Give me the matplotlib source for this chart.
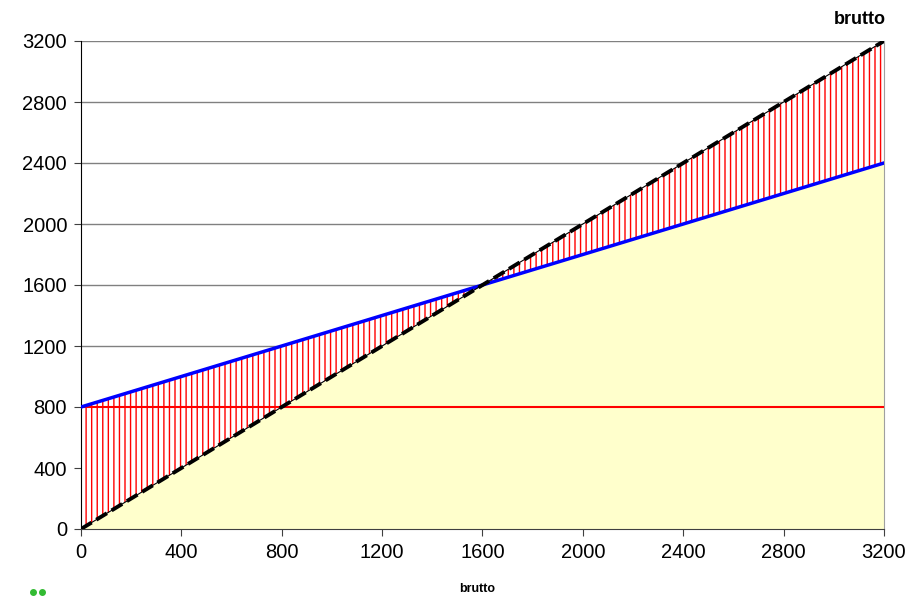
import numpy as np
import matplotlib.pyplot as plt

brutto = np.array([0, 1600, 3200])
brutto_line = np.array([0, 1600, 3200])   # y = brutto (dashed)
netto = np.array([800, 1600, 2400])       # blue line
grundfreibetrag = np.array([800, 800, 800])  # red horizontal
ticks = [0, 400, 800, 1200, 1600, 2000, 2400, 2800, 3200]

plt.rcParams['font.family'] = ['Liberation Sans', 'DejaVu Sans']
plt.rcParams['hatch.color'] = 'red'
plt.rcParams['hatch.linewidth'] = 1.0

fig = plt.figure(figsize=(9.13, 5.96), dpi=100)
ax = fig.add_axes([81/913, 1-529/596, 803/913, 488/596])

for t in ticks[1:]:
    ax.axhline(t, color='#808080', lw=1, zorder=0)

lower = np.minimum(brutto_line, netto)
ax.fill_between(brutto, 0, lower, color='#FFFFCC', lw=0, zorder=1)
ax.fill_between(brutto, brutto_line, netto, facecolor='white', edgecolor='red',
                hatch='|||', lw=0, zorder=1)

ax.plot(brutto, grundfreibetrag, color='red', lw=1.5, zorder=3)
ax.plot(brutto, netto, color='#0000FF', lw=2.5, zorder=4)
ax.plot(brutto, brutto_line, color='black', lw=0.8, zorder=5)
ax.plot(brutto, brutto_line, color='black', lw=2.8, dashes=(3.2, 1.4), zorder=5)

ax.set_xlim(0, 3200)
ax.set_ylim(0, 3200)
ax.set_xticks(ticks)
ax.set_yticks(ticks)
ax.tick_params(labelsize=14.5, length=5, color='#404040', pad=5)
ax.spines['left'].set_color('black')
ax.spines['bottom'].set_color('#404040')
ax.spines['right'].set_color('#A0A0A0')
ax.spines['top'].set_visible(False)

fig.text(860/913, 1-19/596, 'brutto', fontsize=13, fontweight='bold', ha='center', va='center')
fig.text(477/913, 1-589/596, 'brutto', fontsize=9, fontweight='bold', ha='center', va='center')
fig.lines.append(plt.Line2D([33/913, 42/913], [1-592/596]*2, transform=fig.transFigure,
                            ls='none', marker='o', ms=4, color='#33BB33'))

fig.savefig('out.png', dpi=100)
